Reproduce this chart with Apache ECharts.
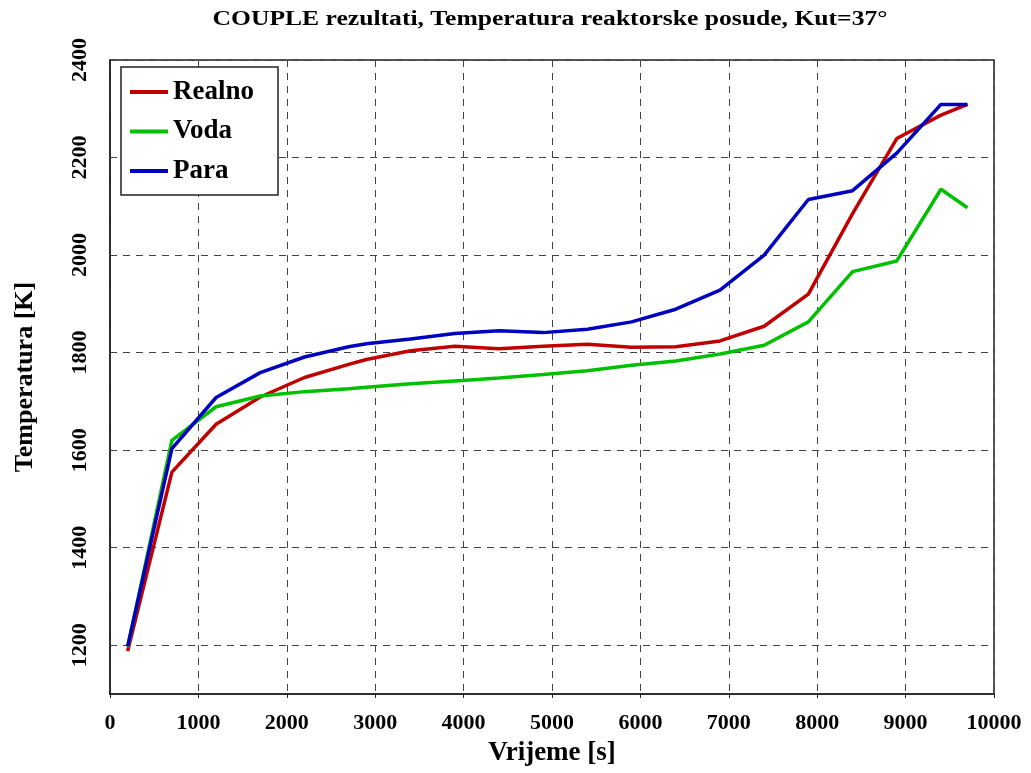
<!DOCTYPE html>
<html>
<head>
<meta charset="utf-8">
<script src="https://cdn.jsdelivr.net/npm/echarts@6/dist/echarts.min.js"></script>
<style>
html,body{margin:0;padding:0;background:#fff;}
#chart{width:1031px;height:773px;}
</style>
</head>
<body>
<div id="chart"></div>
<script>
var titleText = 'COUPLE rezultati, Temperatura reaktorske posude, Kut=37°';
var xName = 'Vrijeme [s]';
var yName = 'Temperatura [K]';
var seriesNames = ['Realno', 'Voda', 'Para'];
var seriesColors = ['#c00000', '#00c000', '#0000c0'];

var timeS = [200, 700, 1200, 1700, 2200, 2700, 2900, 3400, 3900, 4400, 4900, 5400, 5900, 6400, 6900, 7400, 7900, 8400, 8900, 9400, 9700];
var realno = [1188, 1555, 1653, 1709, 1749, 1776, 1786, 1804, 1813, 1808, 1813, 1817, 1811, 1812, 1824, 1854, 1920, 2085, 2239, 2287, 2309];
var voda   = [1196, 1620, 1689, 1711, 1720, 1726, 1729, 1736, 1742, 1748, 1755, 1763, 1774, 1783, 1797, 1815, 1863, 1966, 1988, 2135, 2097];
var para   = [1198, 1603, 1708, 1759, 1791, 1812, 1818, 1828, 1839, 1845, 1841, 1848, 1863, 1889, 1928, 2000, 2114, 2132, 2209, 2309, 2309];

var xTicks = {min: 0, max: 10000, interval: 1000};
var yTicks = {min: 1100, max: 2400, interval: 100, labelStep: 200};

function pairs(xs, ys) { return xs.map(function (x, i) { return [x, ys[i]]; }); }

var FONT = '"Liberation Serif", "Times New Roman", serif';
var chart = echarts.init(document.getElementById('chart'), null, {renderer: 'canvas'});
var allData = [realno, voda, para];

var gridColors = [];
for (var v = yTicks.min; v <= yTicks.max; v += yTicks.interval) {
  gridColors.push(v % yTicks.labelStep === 0 ? '#444' : 'rgba(0,0,0,0)');
}

chart.setOption({
  animation: false,
  backgroundColor: '#fff',
  graphic: [{
    type: 'text',
    x: 550,
    y: 10,
    scaleX: 1.28,
    originX: 0,
    style: {
      text: titleText,
      fontFamily: FONT,
      fontWeight: 'bold',
      fontSize: 20,
      fill: '#000',
      align: 'center',
      verticalAlign: 'top'
    }
  }],
  grid: {left: 110, right: 37, top: 60, bottom: 79, outerBoundsMode: 'none', containLabel: false,
         show: true, borderColor: '#222', borderWidth: 1.5},
  legend: {
    data: seriesNames,
    orient: 'vertical',
    left: 121,
    top: 67,
    backgroundColor: '#fff',
    borderColor: '#222',
    borderWidth: 1.5,
    borderRadius: 0,
    padding: [11, 24, 10, 9],
    itemGap: 11.5,
    itemWidth: 38,
    itemHeight: 4,
    icon: 'rect',
    textStyle: {fontFamily: FONT, fontWeight: 'bold', fontSize: 27, color: '#000', lineHeight: 28}
  },
  xAxis: {
    type: 'value',
    min: xTicks.min, max: xTicks.max, interval: xTicks.interval,
    name: xName,
    nameLocation: 'middle',
    nameGap: 46,
    nameTextStyle: {fontFamily: FONT, fontWeight: 'bold', fontSize: 27, color: '#000'},
    axisLine: {show: true, lineStyle: {color: '#222', width: 1.5}},
    axisTick: {show: true, length: 4, lineStyle: {color: '#222'}},
    axisLabel: {fontFamily: FONT, fontWeight: 'bold', fontSize: 22, color: '#000', margin: 18,
      formatter: function (val) { return String(val); }},
    splitLine: {show: true, lineStyle: {color: '#444', type: [7, 6], width: 1}}
  },
  yAxis: {
    type: 'value',
    min: yTicks.min, max: yTicks.max, interval: yTicks.interval,
    name: yName,
    nameLocation: 'middle',
    nameGap: 72,
    nameTextStyle: {fontFamily: FONT, fontWeight: 'bold', fontSize: 26, color: '#000'},
    axisLine: {show: true, lineStyle: {color: '#222', width: 1.5}},
    axisTick: {show: false},
    axisLabel: {
      fontFamily: FONT, fontWeight: 'bold', fontSize: 22, color: '#000', margin: 19, rotate: 90,
      formatter: function (val) { return val % yTicks.labelStep === 0 ? String(val) : ''; }
    },
    splitLine: {show: true, lineStyle: {color: gridColors, type: [7, 6], width: 1}}
  },
  series: seriesNames.map(function (n, i) {
    return {
      name: n,
      type: 'line',
      data: pairs(timeS, allData[i]),
      symbol: 'none',
      color: seriesColors[i],
      lineStyle: {width: 3.5, color: seriesColors[i]},
      z: 3 + (i === 2 ? 1 : 0)
    };
  })
});
</script>
</body>
</html>
